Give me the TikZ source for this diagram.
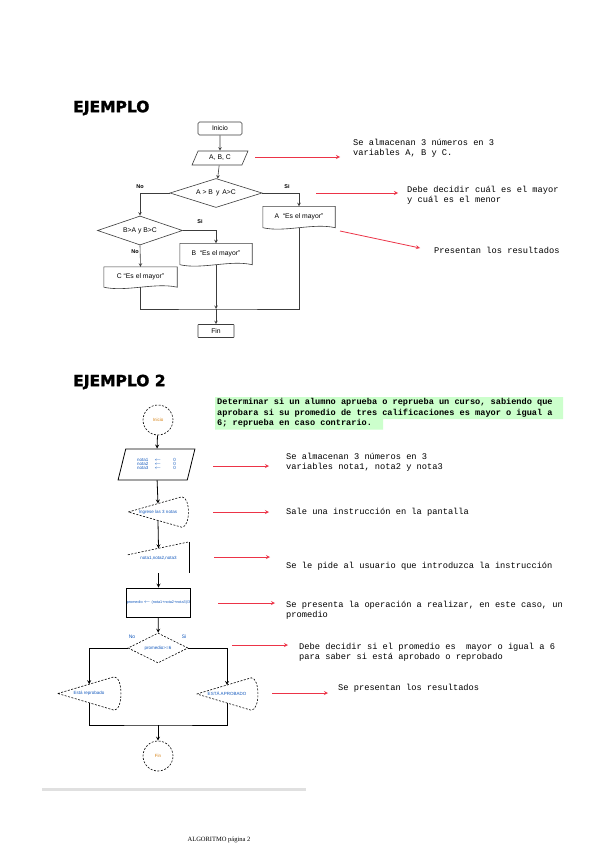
\documentclass[tikz,border=0pt]{standalone}
\usepackage{fontspec}
\setmainfont{Liberation Serif}
\newfontfamily\arialfont{Liberation Sans}
\newfontfamily\monofont{Liberation Mono}
\newfontfamily\headfont[FakeBold=1.6]{DejaVu Sans}
\usetikzlibrary{shapes.geometric,calc}
\definecolor{nred}{RGB}{236,52,72}
\definecolor{ngreen}{RGB}{204,255,204}
\definecolor{nblue}{RGB}{20,90,190}
\definecolor{norange}{RGB}{215,130,20}
\definecolor{ngray}{RGB}{60,60,60}
\tikzset{
  flow/.style={draw=ngray, line width=0.6pt, font=\arialfont\fontsize{6.8}{7.5}\selectfont, inner sep=1pt},
  startbox/.style={flow, rounded corners=1.5pt, minimum width=44, minimum height=13},
  databox/.style={flow, trapezium, trapezium left angle=67, trapezium right angle=113, trapezium stretches=true, minimum width=56, minimum height=14},
  askbox/.style={flow, diamond, aspect=3, inner sep=0pt},
  docbox/.style={font=\arialfont\fontsize{6.8}{7.5}\selectfont, minimum width=72, minimum height=21, inner sep=1pt},
  yesno/.style={font=\arialfont\bfseries\fontsize{5.5}{6}\selectfont},
  note/.style={font=\monofont\fontsize{8.7}{10.4}\selectfont, align=left, inner sep=0pt, anchor=north west},
  redarrow/.style={->, draw=nred, line width=0.8pt},
  title/.style={font=\headfont\bfseries\fontsize{15.5}{16}\selectfont, anchor=west, inner sep=0pt},
  dline/.style={draw=black, line width=0.6pt, dash pattern=on 2pt off 1.5pt},
  bflow/.style={font=\arialfont\fontsize{4.5}{5.5}\selectfont, text=nblue, inner sep=1pt},
  circbox/.style={bflow, circle, dline, minimum size=30, text=norange},
  blabel/.style={font=\arialfont\fontsize{5}{6}\selectfont, text=nblue},
  bline/.style={draw=black, line width=0.8pt}
}
\newcommand\docshape[1]{\draw[draw=ngray, line width=0.6pt] (#1.south west) -- (#1.north west) -- (#1.north east) -- (#1.south east) .. controls +(-22,-5) and +(22,5) .. (#1.south west);}
\newcommand\dispshape[1]{\draw[dline] (#1.west) -- ([xshift=-6pt]#1.north east) .. controls ([xshift=3pt]#1.north east) and ([xshift=3pt]#1.south east) .. ([xshift=-6pt]#1.south east) -- cycle;
  \coordinate (#1-t) at ($(#1.west)!0.556!([xshift=-6pt]#1.north east)$);
  \coordinate (#1-b) at ($(#1.west)!0.556!([xshift=-6pt]#1.south east)$);}
\begin{document}
\begin{tikzpicture}[x=1pt, y=-1pt, >=stealth]
\fill[white] (0,0) rectangle (599,848);
\useasboundingbox (0,0) rectangle (599,848);

\node[title] (t1) at (73,108) {EJEMPLO};
\node[startbox] (ini) at (220,128.5) {Inicio};
\node[databox] (abc) at (220,158) {A, B, C};
\node[askbox, minimum width=92, minimum height=29] (d1) at (216,193) {A > B \,y\, A>C};
\node[askbox, minimum width=85, minimum height=29] (d2) at (140,230.5) {B>A y B>C};
\node[docbox] (ba) at (299,217) {A \ “Es el mayor”};
\node[docbox] (bb) at (216,254) {B \ “Es el mayor”};
\node[docbox, minimum width=73, minimum height=20] (bc) at (140.5,277) {C “Es el mayor”};
\node[startbox, minimum width=36, rounded corners=0.5pt] (fin) at (216,331) {Fin};
\docshape{ba}
\docshape{bb}
\docshape{bc}
\coordinate (m1) at (216,309);
\draw[->, ngray, line width=0.6pt] (ini) -- (abc);
\draw[->, ngray, line width=0.6pt] (abc) -- (d1);
\draw[->, ngray, line width=0.6pt] (d1.west) -| (d2.north);
\draw[->, ngray, line width=0.6pt] (d1.east) -| (ba.north);
\draw[->, ngray, line width=0.6pt] (d2.east) -| (bb.north);
\draw[->, ngray, line width=0.6pt] (d2.south) -- (bc.north);
\draw[ngray, line width=0.6pt] (bc.south) |- (m1) -| (ba.south);
\draw[->, ngray, line width=0.6pt] (bb.south) -- (m1);
\draw[->, ngray, line width=0.6pt] (m1) -- (fin);
\node[yesno] at (140,187) {No};
\node[yesno] at (287,187) {Si};
\node[yesno] at (200,222) {Si};
\node[yesno] at (135,252) {No};

\node[note] (n1) at (353,138.5) {Se almacenan 3 números en 3\\variables A, B y C.};
\node[note] (n2) at (407,185.5) {Debe decidir cuál es el mayor\\y cuál es el menor};
\node[note] (n3) at (434,246.5) {Presentan los resultados};
\coordinate (r1) at (255,157);
\coordinate (r1e) at (340,157);
\coordinate (r2) at (316,193);
\coordinate (r2e) at (398,193);
\coordinate (r3) at (340,231);
\coordinate (r3e) at (420,248);
\draw[redarrow] (r1) -- (r1e);
\draw[redarrow] (r2) -- (r2e);
\draw[redarrow] (r3) -- (r3e);

\node[title] (t2) at (73,382) {EJEMPLO 2};
\fill[ngreen] (215,397) -- (563,397) -- (563,419) -- (383,419) -- (383,429.5) -- (215,429.5) -- cycle;
\node[note, font=\monofont\bfseries\fontsize{8.6}{10.5}\selectfont] (enun) at (217,398.5) {Determinar si un alumno aprueba o reprueba un curso, sabiendo que\\aprobara si su promedio de tres calificaciones es mayor o igual a\\6; reprueba en caso contrario.};

\node[circbox] (ini2) at (158,420) {Inicio};
\node[bflow, draw, line width=0.8pt, trapezium, trapezium left angle=72, trapezium right angle=108, trapezium stretches=true, minimum width=77, minimum height=31] (notas) at (156.5,464.5)
  {\begin{tabular}{@{}l@{\hspace{6pt}}c@{\hspace{12pt}}l@{}}nota1 & $\leftarrow$ & 0\\[-1.5pt] nota2 & $\leftarrow$ & 0\\[-1.5pt] nota3 & $\leftarrow$ & 0\end{tabular}};
\node[bflow, minimum width=59, minimum height=30] (ingr) at (158,512) {Ingrese las 3 notas};
\node[bflow, minimum width=61, minimum height=31, text depth=-2pt] (leer) at (158.5,557.5) {nota1,nota2,nota3};
\node[bflow, bline, font=\arialfont\fontsize{3.8}{4.5}\selectfont, minimum width=63, minimum height=29, inner sep=0.5pt] (prom) at (158.5,602.5) {promedio $\leftarrow$ (nota1+nota2+nota3)/3};
\node[bflow, diamond, dline, aspect=2, inner sep=0pt, minimum width=60, minimum height=30] (dec) at (158,648) {promedio>=6};
\node[bflow, minimum width=62, minimum height=33] (repr) at (89,693.5) {Está reprobado};
\node[bflow, minimum width=60, minimum height=32] (apro) at (227,694) {ESTÁ APROBADO};
\node[circbox] (fin2) at (158,756) {Fin};
\dispshape{ingr}
\dispshape{repr}
\dispshape{apro}
\coordinate (leer-tl) at ([yshift=-13pt]leer.north west);
\coordinate (leer-t) at ($(leer-tl)!0.5!(leer.north east)$);
\draw[dline] (leer-tl) -- (leer.north east);
\draw[bline] (leer.north east) -- (leer.south east);
\coordinate (m2) at (158,725);
\draw[->, bline] (ini2) -- (notas);
\draw[->, bline] (notas) -- (ingr-t);
\draw[->, bline] (ingr-b) -- (leer-t);
\draw[->, bline] (leer.south) -- (prom);
\draw[->, bline] (prom) -- (dec);
\draw[->, bline] (dec.west) -| (repr-t);
\draw[->, bline] (dec.east) -| (apro-t);
\draw[bline] (repr-b) |- (m2) -| (apro-b);
\draw[->, bline] (m2) -- (fin2);
\node[blabel] at (132,637) {No};
\node[blabel] at (184,637) {Si};

\node[note] (n4) at (286,452.5) {Se almacenan 3 números en 3\\variables nota1, nota2 y nota3};
\node[note] (n5) at (286,507.5) {Sale una instrucción en la pantalla};
\node[note] (n6) at (286,561.5) {Se le pide al usuario que introduzca la instrucción};
\node[note] (n7) at (286,600.5) {Se presenta la operación a realizar, en este caso, un\\promedio};
\node[note] (n8) at (299,642.5) {Debe decidir si el promedio es \ mayor o igual a 6\\para saber si está aprobado o reprobado};
\node[note] (n9) at (338,683.5) {Se presentan los resultados};
\coordinate (r4) at (213,466);
\coordinate (r4e) at (269,466);
\coordinate (r5) at (213,512);
\coordinate (r5e) at (269,512);
\coordinate (r6) at (214,557);
\coordinate (r6e) at (270,557);
\coordinate (r7) at (218,603);
\coordinate (r7e) at (275,603);
\coordinate (r8) at (232,645);
\coordinate (r8e) at (288,645);
\coordinate (r9) at (272,693);
\coordinate (r9e) at (328,693);
\draw[redarrow] (r4) -- (r4e);
\draw[redarrow] (r5) -- (r5e);
\draw[redarrow] (r6) -- (r6e);
\draw[redarrow] (r7) -- (r7e);
\draw[redarrow] (r8) -- (r8e);
\draw[redarrow] (r9) -- (r9e);

\draw[line width=3pt, black!12] (42,789) -- (306,789);
\node[font=\fontsize{6.5}{7}\selectfont, inner sep=0pt] (pie) at (219,840) {ALGORITMO página 2};
\end{tikzpicture}
\end{document}
